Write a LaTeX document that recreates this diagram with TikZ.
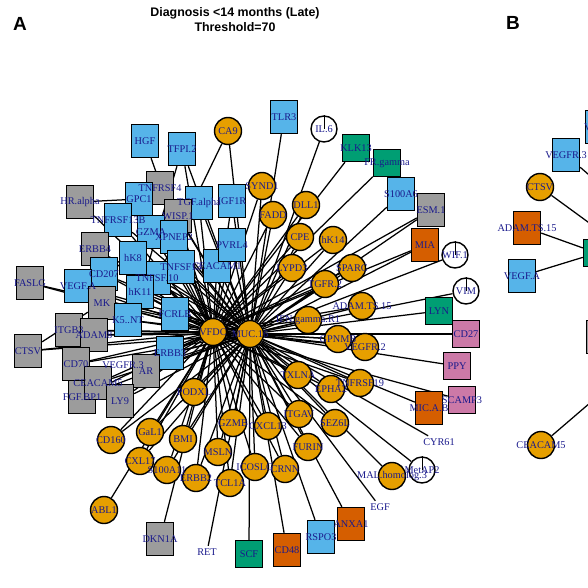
\documentclass[tikz,border=0pt]{standalone}
\usepackage{fontspec}
\setmainfont{Liberation Serif}
\newfontfamily\headfont{Liberation Sans}
\usetikzlibrary{backgrounds}

\definecolor{vorange}{HTML}{E69F00}
\definecolor{vsky}{HTML}{56B4E9}
\definecolor{vgray}{HTML}{9C9C9C}
\definecolor{vgreen}{HTML}{009E73}
\definecolor{vred}{HTML}{D55E00}
\definecolor{vpink}{HTML}{CC79A7}
\definecolor{vlabel}{HTML}{1A1A8C}

% all vertices: name/x/y/style/label (pixel coordinates)
\def\vlist{%
hgf/145/141/skybox/HGF, tfpi2/182/149/skybox/TFPI.2,
tnfrsf4/160/188/graybox/TNFRSF4, gpc1/139/199/skybox/GPC1, hralpha/80/202/graybox/HR.alpha,
tgfa/199/203/skybox/TGF.alpha, igf1r/232/201/skybox/IGF1R, wisp1/178/216/graybox/WISP.1,
tnfrsf13b/118/220/skybox/TNFRSF13B, gzma/151/232/skybox/GZMA, xpnep2/174/237/skybox/XPNEP2,
ceacam1/217/266/skybox/CEACAM1, pvrl4/232/245/skybox/PVRL4, erbb4/95/249/graybox/ERBB4,
tnfsf10/157/278/skybox/TNFSF.10, hk8/133/258/skybox/hK8, tnfsf13/181/267/skybox/TNFSF13,
cd207/104/274/skybox/CD207, vegfa/78/286/skybox/VEGF.A, faslg/30/283/graybox/FASLG,
hk11/140/292/skybox/hK11, mk/102/303/graybox/MK, k5nt/128/320/skybox/K5..NT,
fcrlb/175/314/skybox/FCRLB, itgb3/69/330/graybox/ITGB3, adam8/94/335/graybox/ADAM8,
ctsv/28/351/graybox/CTSV, erbb3/170/353/skybox/ERBB3, cd70/76/364/graybox/CD70,
vegfr3/123/365/textonly/VEGFR.3, ar/146/371/graybox/AR, fgfbp1/82/397/graybox/FGF.BP1,
ceacam5/98/383/graybox/CEACAM5, ly9/120/401/graybox/LY9,
vfdc/213/332/orangedot/VFDC, muc/250/334/orangedot/MUC.16,
ca9/228/131/orangedot/CA9, synd1/262/186/orangedot/SYND1, fadd/273/215/orangedot/FADD,
dll1/306/205/orangedot/DLL1, cpe/300/237/orangedot/CPE, hk14/333/240/orangedot/hK14,
lypd3/292/268/orangedot/LYPD3, sparc/352/268/orangedot/SPARC, tgfr2/325/284/orangedot/TGFR.2,
adamts15/362/306/orangedot/ADAM.TS.15, ifngr1/308/320/orangedot/IFN.gamma.R1,
gpnmb/338/339/orangedot/GPNMB, vegfr2/365/347/orangedot/VEGFR.2, txlna/298/375/orangedot/TXLNA,
epha2/331/389/orangedot/EPHA2, tnfrsf19/360/383/orangedot/TNFRSF19, itgav/299/414/orangedot/ITGAV,
sez6l/335/423/orangedot/SEZ6L, furin/308/447/orangedot/FURIN, malh3/392/476/orangedot/MAL.homolog.3,
cxcl13/268/426/orangedot/CXCL13, gzmb/233/423/orangedot/GZMB, podxl/194/392/orangedot/PODXL,
msln/218/452/orangedot/MSLN, tcl1a/230/483/orangedot/TCL1A, icoslg/255/467/orangedot/ICOSLG,
crnn/285/469/orangedot/CRNN, bmi/183/439/orangedot/BMI, gal1/150/432/orangedot/GaL1,
cd160/111/440/orangedot/CD160, cxl17/140/461/orangedot/CXL17, s100a11/167/470/orangedot/S100A11,
erbb2/196/478/orangedot/ERBB2, abl1/104/510/orangedot/ABL1,
il6/324/129/whitedot/IL.6, wif1/455/255/whitedot/WIF.1, vim/466/291/whitedot/VIM,
metap2/422/470/whitedot/MetAP2,
tlr3/284/117/skybox/TLR3, klk13/356/148/greenbox/KLK13, frgamma/387/163/greenbox/FR.gamma,
s100a6/401/194/skybox/S100A6, esm1/431/210/graybox/ESM.1, mia/425/245/redbox/MIA,
lyn/439/311/greenbox/LYN, cd27/466/334/pinkbox/CD27, ppy/457/366/pinkbox/PPY,
scamp3/462/400/pinkbox/SCAMP3, micab/429/408/redbox/MIC.A.B, cyr61/439/442/textonly/CYR61,
egf/380/507/textonly/EGF, anxa1/351/524/redbox/ANXA1, rspo3/321/537/skybox/RSPO3,
cd48/287/550/redbox/CD48, scf/249/554/greenbox/SCF, ret/207/552/textonly/RET,
dkn1a/160/539/graybox/DKN1A,
bvtop/599/127/skybox/{}, bvegfr3/566/155/skybox/VEGFR.3, bctsv/540/187/orangedot/CTSV,
badam/527/228/redbox/ADAM.TS.15, bvegfa/522/276/skybox/VEGF.A, bhub/597/253/greenbox/{},
bgray/600/337/graybox/{}, bceacam5/541/445/orangedot/CEACAM5}

\begin{document}
\begin{tikzpicture}[x=1pt,y=-1pt,
    vshape/.style={draw=black,line width=1.4pt,inner sep=0pt},
    skybox/.style={vshape,fill=vsky,minimum width=27pt,minimum height=33pt},
    graybox/.style={vshape,fill=vgray,minimum width=27pt,minimum height=33pt},
    redbox/.style={vshape,fill=vred,minimum width=27pt,minimum height=33pt},
    greenbox/.style={vshape,fill=vgreen,minimum size=27pt},
    pinkbox/.style={vshape,fill=vpink,minimum size=27pt},
    orangedot/.style={vshape,circle,fill=vorange,minimum size=27pt},
    whitedot/.style={vshape,circle,fill=white,minimum size=26pt},
    textonly/.style={inner sep=0pt,minimum width=30pt,minimum height=12pt},
    lbl/.style={text=vlabel,font=\fontsize{10.3}{10}\selectfont,inner sep=0pt},
    link/.style={line width=1.25pt,black}]

    \useasboundingbox (0,0) rectangle (588,588);

    % title and panel letters
    \node[font=\headfont\bfseries\fontsize{12.4}{15}\selectfont,align=center] (title) at (235,20)
        {Diagnosis <14 months (Late)\\Threshold=70};
    \node[font=\headfont\bfseries\fontsize{19}{19}\selectfont] (panA) at (20,24) {A};
    \node[font=\headfont\bfseries\fontsize{19}{19}\selectfont] (panB) at (513,23) {B};

    % vertices
    \foreach \n/\x/\y/\s/\t in \vlist
        \node[\s] (\n) at (\x,\y) {};

    % pie marks on the white vertices
    \foreach \n in {il6,wif1,vim,metap2}
        \draw[line width=1pt] (\n.center) -- (\n.north);

    % labels on top
    \foreach \n/\x/\y/\s/\t in \vlist
        \node[lbl] at (\n) {\t};
    \node[lbl,anchor=west] (bvlbl) at (584,127) {V};

    % off-canvas ends of panel B
    \coordinate (bx1) at (640,219);
    \coordinate (bx2) at (640,260);
    \coordinate (bx3) at (640,360);

    % edges
    \begin{pgfonlayer}{background}
    \draw[link] (vfdc) -- (muc);
    \foreach \a in {synd1,fadd,dll1,cpe,hk14,lypd3,sparc,tgfr2,adamts15,ifngr1,gpnmb,vegfr2,
        txlna,epha2,tnfrsf19,itgav,sez6l,furin,cxcl13,gzmb,podxl,msln,tcl1a,icoslg,crnn,
        bmi,gal1,cd160,cxl17,s100a11,erbb2,
        tnfrsf4,gpc1,tgfa,igf1r,wisp1,tnfrsf13b,gzma,xpnep2,ceacam1,pvrl4,erbb4,tnfsf10,
        hk8,tnfsf13,cd207,vegfa,faslg,hk11,mk,k5nt,fcrlb,itgb3,adam8,ctsv,erbb3,cd70,
        vegfr3,ar,fgfbp1,ceacam5,ly9,esm1,mia}
        {\draw[link] (\a) -- (vfdc); \draw[link] (\a) -- (muc);}
    \foreach \a in {tlr3,il6,ca9,s100a6,wif1,vim,lyn,cd27,ppy,micab,cyr61,metap2,malh3,
        egf,anxa1,rspo3,cd48,scf,ret,tfpi2}
        \draw[link] (\a) -- (muc);
    \foreach \a in {klk13,frgamma,scamp3,dkn1a,abl1,hgf,hralpha,tfpi2}
        \draw[link] (\a) -- (vfdc);
    \draw[link] (ca9) -- (tnfsf10);
    \draw[link] (hralpha) -- (gpc1);
    \draw[link] (ctsv) -- (mk);
    \draw[link] (tfpi2) -- (hk11);
    % panel B
    \draw[link] (badam) -- (bhub);
    \draw[link] (bvegfa) -- (bhub);
    \draw[link] (bvegfr3) -- (bx1);
    \draw[link] (bctsv) -- (bx2);
    \draw[link] (bceacam5) -- (bx3);
    \end{pgfonlayer}

\end{tikzpicture}
\end{document}
